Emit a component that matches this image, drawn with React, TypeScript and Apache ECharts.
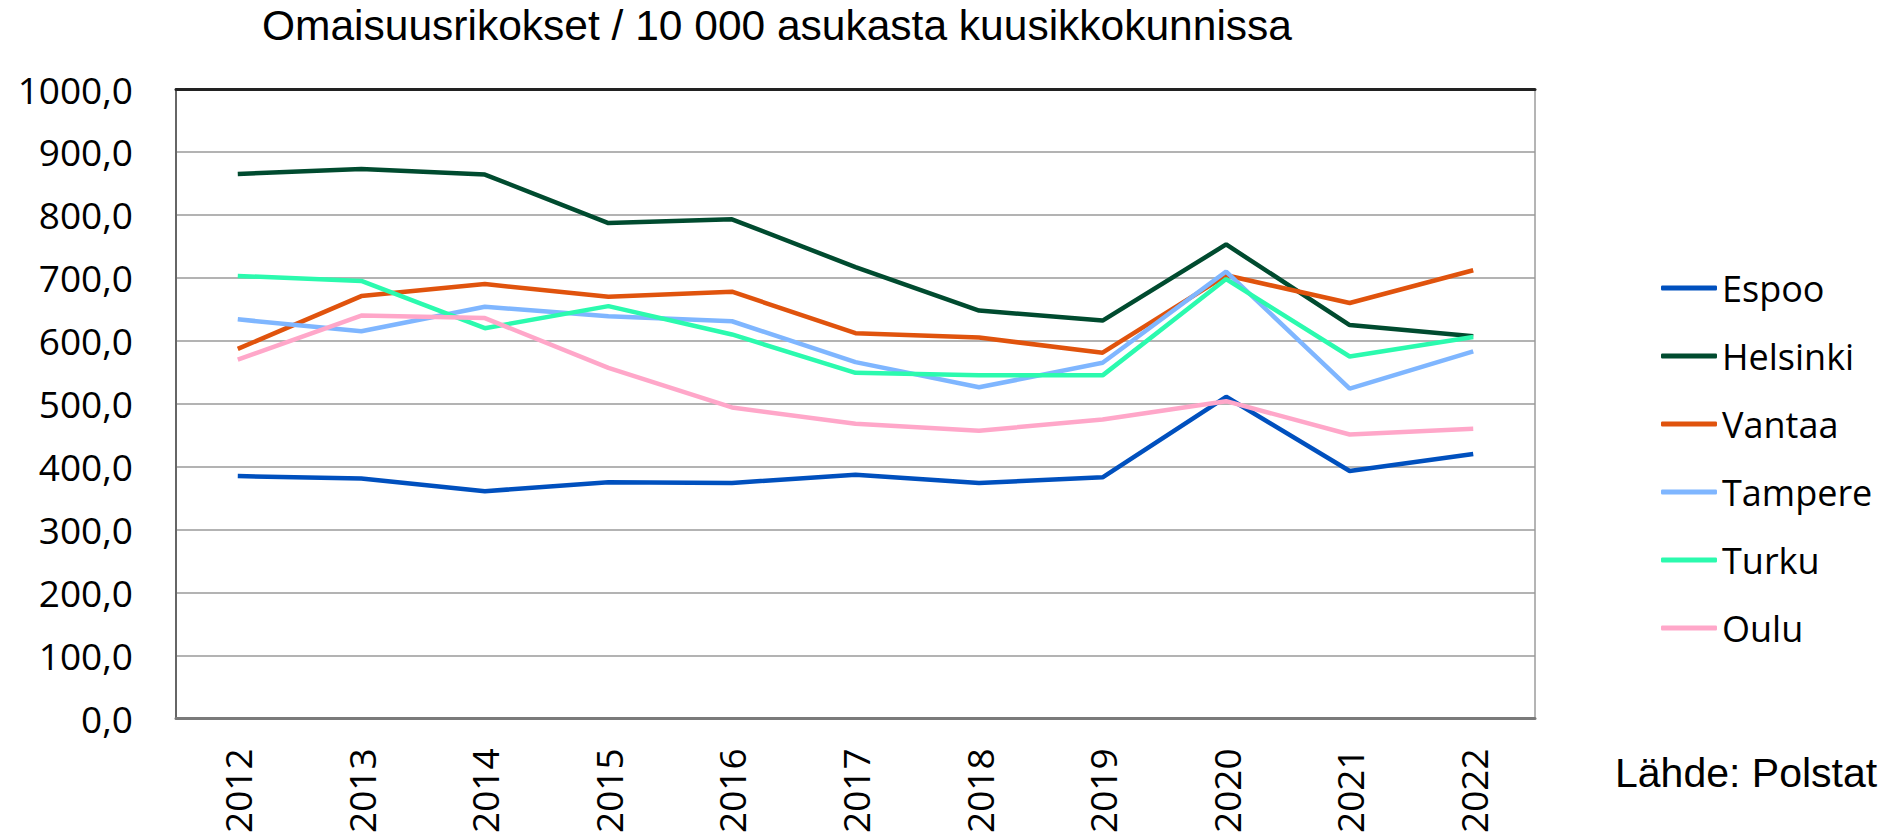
import React, { useEffect, useRef } from "react";
import * as echarts from "echarts";

const years = ["2012", "2013", "2014", "2015", "2016", "2017", "2018", "2019", "2020", "2021", "2022"];
const espoo = [385, 381, 361, 375, 374, 387, 374, 383, 511, 393, 420];
const helsinki = [865, 873, 864, 787, 793, 717, 648, 632, 753, 625, 607];
const vantaa = [587, 671, 690, 670, 678, 612, 605, 581, 704, 660, 712];
const tampere = [634, 615, 654, 639, 631, 566, 526, 565, 710, 524, 583];
const turku = [703, 695, 620, 655, 610, 549, 545, 545, 698, 575, 606];
const oulu = [570, 640, 636, 557, 494, 468, 457, 475, 504, 451, 460];

const seriesDefs = [
  { name: "Espoo", data: espoo, color: "#0050BE" },
  { name: "Helsinki", data: helsinki, color: "#004B2F" },
  { name: "Vantaa", data: vantaa, color: "#E0530D" },
  { name: "Tampere", data: tampere, color: "#7FB6FF" },
  { name: "Turku", data: turku, color: "#2BFAAE" },
  { name: "Oulu", data: oulu, color: "#FFA7C9" },
];

const titleText = "Omaisuusrikokset / 10 000 asukasta kuusikkokunnissa";
const sourceText = "Lähde: Polstat";

export default function App() {
  const ref = useRef<HTMLDivElement>(null);
  useEffect(() => {
    document.body.style.margin = "0";
    if (!ref.current) return;
    const chart = echarts.init(ref.current, null, { renderer: "svg" });
    const axisFont = "'Open Sans', sans-serif";
    chart.setOption({
      animation: false,
      backgroundColor: "#ffffff",
      title: {
        text: titleText,
        left: 262,
        top: 4,
        padding: 0,
        textStyle: {
          fontFamily: "'Liberation Sans', Arial, sans-serif",
          fontSize: 42.5,
          fontWeight: "normal",
          color: "#000",
        },
      },
      graphic: [
        {
          type: "text",
          left: 1615,
          top: 752,
          style: {
            text: sourceText,
            fontFamily: "'Liberation Sans', Arial, sans-serif",
            fontSize: 41,
            fill: "#000",
          },
        },
      ],
      legend: {
        orient: "vertical",
        left: 1661,
        top: 268,
        padding: 0,
        itemWidth: 56,
        itemHeight: 5,
        itemGap: 28,
        icon: "roundRect",
        textStyle: {
          fontFamily: axisFont,
          fontSize: 36,
          color: "#000",
          lineHeight: 40,
        },
        data: seriesDefs.map((s) => s.name),
      },
      grid: {
        left: 176,
        right: 353,
        top: 89,
        bottom: 114,
        show: true,
        borderColor: "#6a6a6a",
        borderWidth: 1,
      },
      xAxis: [
        {
          type: "category",
          data: years,
          boundaryGap: true,
          axisLine: { show: true, lineStyle: { color: "#7a7a7a", width: 3 } },
          axisTick: { show: false },
          axisLabel: {
            rotate: 90,
            margin: 30,
            fontFamily: axisFont,
            fontSize: 37,
            color: "#000",
          },
        },
        {
          type: "category",
          data: years,
          position: "top",
          boundaryGap: true,
          axisLine: { show: true, lineStyle: { color: "#222", width: 3 } },
          axisTick: { show: false },
          axisLabel: { show: false },
        },
      ],
      yAxis: {
        type: "value",
        min: 0,
        max: 1000,
        interval: 100,
        axisLine: { show: true, lineStyle: { color: "#666", width: 2 } },
        axisTick: { show: false },
        splitLine: { show: true, lineStyle: { color: "#9a9a9a", width: 1.5 } },
        axisLabel: {
          margin: 43,
          fontFamily: axisFont,
          fontSize: 37,
          color: "#000",
          formatter: (v: number) => v.toFixed(1).replace(".", ","),
        },
      },
      series: seriesDefs.map((s) => ({
        name: s.name,
        type: "line",
        data: s.data,
        symbol: "none",
        smooth: false,
        color: s.color,
        lineStyle: { color: s.color, width: 4.5 },
        itemStyle: { color: s.color },
      })),
    });
    return () => chart.dispose();
  }, []);
  return <div ref={ref} style={{ width: 1888, height: 836 }} />;
}
